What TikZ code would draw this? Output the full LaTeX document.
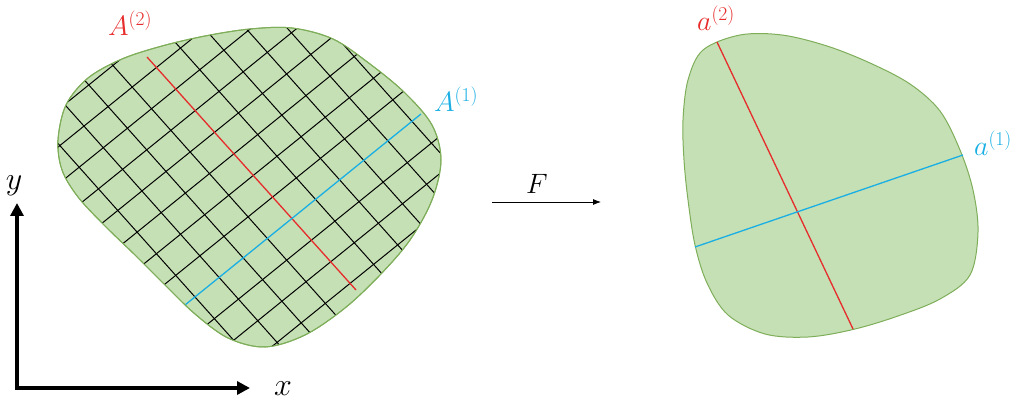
\RequirePackage{fix-cm}
\documentclass[tikz,border=0pt]{standalone}
\usetikzlibrary{arrows.meta}
\definecolor{blobfill}{HTML}{C5E0B4}
\definecolor{blobline}{HTML}{7FAE5A}
\definecolor{myred}{HTML}{E62C2C}
\definecolor{myblue}{HTML}{1AAFE4}
\newcommand\leftblob{plot[smooth cycle, tension=0.55] coordinates {(58,140) (66,105) (88,78) (122,59) (162,46) (205,36) (250,29) (292,28) (333,39) (370,64) (405,93) (432,125) (441,160) (432,200) (410,240) (380,275) (345,308) (305,335) (265,347) (228,338) (195,314) (165,285) (135,255) (105,226) (78,197) (62,170)}}
\newcommand\rightblob{plot[smooth cycle, tension=0.55] coordinates {(683,120) (688,80) (703,50) (740,35) (782,35) (827,46) (870,63) (910,84) (940,111) (960,150) (973,190) (978,232) (970,275) (940,299) (898,316) (853,329.5) (808,337) (765,334) (728,315) (707,283) (695,245) (688,200) (684,160)}}
\begin{document}
\begin{tikzpicture}[x=1pt,y=-1pt,
  blob/.style={fill=blobfill,draw=blobline,line width=1pt},
  gridline/.style={black,line width=1pt},
  redline/.style={myred,line width=1.3pt},
  blueline/.style={myblue,line width=1.3pt},
  lbl/.style={inner sep=1pt,font=\fontsize{28}{32}\selectfont},
  axlbl/.style={inner sep=1pt,font=\fontsize{32}{36}\selectfont},
  axis/.style={line width=3.5pt,{Triangle[length=13pt,width=13pt]}-{Triangle[length=13pt,width=13pt]}},
  maparrow/.style={line width=0.8pt,-{Latex[length=8pt,width=6pt]}}]
\useasboundingbox (0,0) rectangle (1014,403);
% left blob with grid
\path[blob] \leftblob;
\begin{scope}
  \clip \leftblob;
  \foreach \k in {-11,...,11}{
    \ifnum\k=0\relax\else
      \pgfmathsetmacro\ax{291.5+\k*24.12-400*0.666}
      \pgfmathsetmacro\ay{219-\k*19.50-400*0.746}
      \pgfmathsetmacro\bx{291.5+\k*24.12+400*0.666}
      \pgfmathsetmacro\by{219-\k*19.50+400*0.746}
      \draw[gridline] (\ax,\ay) -- (\bx,\by);
      \pgfmathsetmacro\cx{291.5+\k*19.31-400*0.778}
      \pgfmathsetmacro\cy{219+\k*21.63+400*0.629}
      \pgfmathsetmacro\dx{291.5+\k*19.31+400*0.778}
      \pgfmathsetmacro\dy{219+\k*21.63-400*0.629}
      \draw[gridline] (\cx,\cy) -- (\dx,\dy);
    \fi
  }
\end{scope}
\coordinate (r1a) at (147,57);
\coordinate (r1b) at (356,290);
\coordinate (b1a) at (185,305);
\coordinate (b1b) at (421,114);
\draw[redline] (r1a) -- (r1b);
\draw[blueline] (b1a) -- (b1b);
\path[draw=blobline,line width=1pt] \leftblob;
\node[lbl,text=myred] (A2) at (130,23) {$A^{(2)}$};
\node[lbl,text=myblue] (A1) at (456,99) {$A^{(1)}$};
% right blob
\path[blob] \rightblob;
\coordinate (r2a) at (717,42);
\coordinate (r2b) at (853,329);
\coordinate (b2a) at (695,247);
\coordinate (b2b) at (963,155);
\draw[redline] (r2a) -- (r2b);
\draw[blueline] (b2a) -- (b2b);
\node[lbl,text=myred] (a2) at (716,18) {$a^{(2)}$};
\node[lbl,text=myblue] (a1) at (993,143) {$a^{(1)}$};
% map arrow
\coordinate (fa) at (492,202);
\coordinate (fb) at (601,202);
\draw[maparrow] (fa) -- (fb);
\node[lbl] (F) at (537,184) {$F$};
% axes
\coordinate (orig) at (17,388);
\coordinate (ytip) at (17,203);
\coordinate (xtip) at (250,388);
\draw[axis] (ytip) -- (orig) -- (xtip);
\node[axlbl] (ylab) at (14,186) {$y$};
\node[axlbl] (xlab) at (283,389) {$x$};
\end{tikzpicture}
\end{document}
